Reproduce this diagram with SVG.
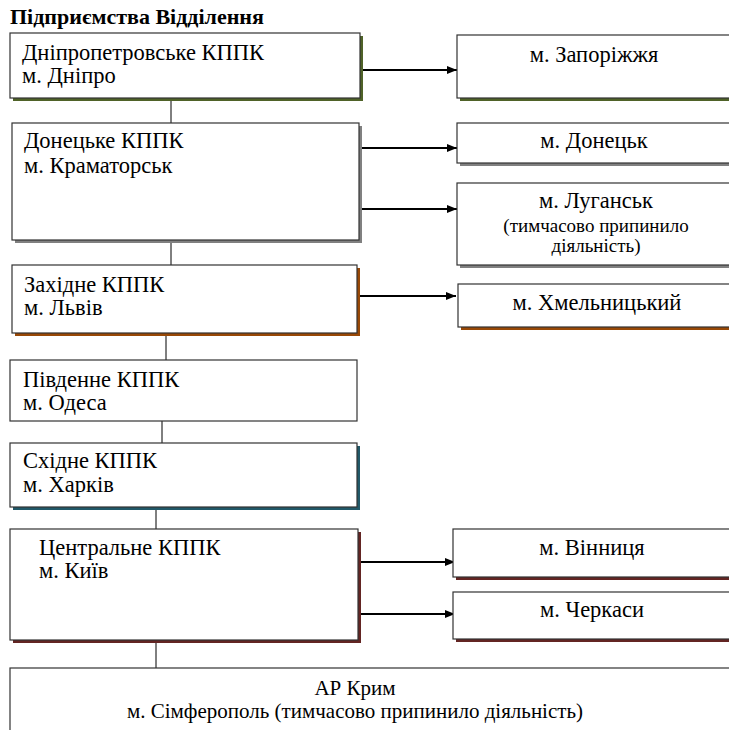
<svg xmlns="http://www.w3.org/2000/svg" width="729" height="730" viewBox="0 0 729 730">
<defs>
<style>
.t{font-family:"Liberation Serif","Times New Roman",serif;font-size:22.5px;font-weight:normal;fill:#000}
.s{font-size:19px}
.k{font-size:21px}
.title{font-family:"Liberation Serif","Times New Roman",serif;font-size:22px;font-weight:bold;fill:#000}
.box{fill:#fff;stroke:#333;stroke-width:1.2}
.c{stroke:#000;stroke-width:1}
.a{stroke:#000;stroke-width:2;fill:none}
</style>
<marker id="ah" markerWidth="10" markerHeight="8" refX="10" refY="4" orient="auto" markerUnits="userSpaceOnUse">
<path d="M0,0 L10,4 L0,8 Z" fill="#000"/>
</marker>
</defs>
<rect width="729" height="730" fill="#fff"/>
<text class="title" x="10" y="24">Підприємства Відділення</text>

<g id="connectors">
<line class="c" x1="171" y1="98" x2="171" y2="123"/>
<line class="c" x1="171" y1="240" x2="171" y2="265"/>
<line class="c" x1="166" y1="333" x2="166" y2="360"/>
<line class="c" x1="162" y1="421" x2="162" y2="443"/>
<line class="c" x1="156" y1="507" x2="156" y2="529"/>
<line class="c" x1="156" y1="640" x2="156" y2="668"/>
<line class="a" x1="362" y1="70" x2="457" y2="70" marker-end="url(#ah)"/>
<line class="a" x1="361" y1="148" x2="457" y2="148" marker-end="url(#ah)"/>
<line class="a" x1="361" y1="209" x2="457" y2="209" marker-end="url(#ah)"/>
<line class="a" x1="357" y1="296" x2="456" y2="296" marker-end="url(#ah)"/>
<line class="a" x1="358" y1="562" x2="455" y2="562" marker-end="url(#ah)"/>
<line class="a" x1="358" y1="614" x2="455" y2="614" marker-end="url(#ah)"/>
</g>

<g id="dnipro">
<rect x="13" y="36" width="350" height="65" fill="#4f6228"/>
<rect class="box" x="10" y="33" width="350" height="65"/>
<text class="t" x="22" y="60">Дніпропетровське КППК</text>
<text class="t" x="22" y="83">м. Дніпро</text>
</g>
<g id="zaporizhzhia">
<rect x="460" y="38" width="280" height="63" fill="#4f6228"/>
<rect class="box" x="457" y="35" width="280" height="63"/>
<text class="t" x="594" y="62" text-anchor="middle">м. Запоріжжя</text>
</g>

<g id="donetske">
<rect x="15" y="126" width="347" height="117" fill="#808080"/>
<rect class="box" x="12" y="123" width="347" height="117"/>
<text class="t" x="24" y="148">Донецьке КППК</text>
<text class="t" x="24" y="173">м. Краматорськ</text>
</g>
<g id="donetsk">
<rect x="460" y="126" width="280" height="40" fill="#808080"/>
<rect class="box" x="457" y="123" width="280" height="40"/>
<text class="t" x="594" y="148" text-anchor="middle">м. Донецьк</text>
</g>
<g id="luhansk">
<rect x="460" y="186" width="280" height="82" fill="#808080"/>
<rect class="box" x="457" y="183" width="280" height="82"/>
<text class="t" x="596" y="208" text-anchor="middle">м. Луганськ</text>
<text class="t s" x="596" y="232" text-anchor="middle">(тимчасово припинило</text>
<text class="t s" x="596" y="252" text-anchor="middle">діяльність)</text>
</g>

<g id="zakhidne">
<rect x="15" y="268" width="345" height="68" fill="#984806"/>
<rect class="box" x="12" y="265" width="345" height="68"/>
<text class="t" x="24" y="292">Західне КППК</text>
<text class="t" x="24" y="315">м. Львів</text>
</g>
<g id="khmelnytskyi">
<rect x="461" y="287" width="280" height="43" fill="#984806"/>
<rect class="box" x="458" y="284" width="280" height="43"/>
<text class="t" x="597" y="310" text-anchor="middle">м. Хмельницький</text>
</g>

<g id="pivdenne">
<rect class="box" x="10" y="360" width="347" height="61"/>
<text class="t" x="23" y="387">Південне КППК</text>
<text class="t" x="23" y="410">м. Одеса</text>
</g>

<g id="skhidne">
<rect x="13" y="446" width="347" height="64" fill="#215868"/>
<rect class="box" x="10" y="443" width="347" height="64"/>
<text class="t" x="23" y="468">Східне КППК</text>
<text class="t" x="23" y="492">м. Харків</text>
</g>

<g id="tsentralne">
<rect x="13" y="532" width="348" height="111" fill="#632523"/>
<rect class="box" x="10" y="529" width="348" height="111"/>
<text class="t" x="39" y="555">Центральне КППК</text>
<text class="t" x="39" y="578">м. Київ</text>
</g>
<g id="vinnytsia">
<rect x="456" y="532" width="280" height="48" fill="#632523"/>
<rect class="box" x="453" y="529" width="280" height="48"/>
<text class="t" x="592" y="555" text-anchor="middle">м. Вінниця</text>
</g>
<g id="cherkasy">
<rect x="456" y="595" width="280" height="47" fill="#632523"/>
<rect class="box" x="453" y="592" width="280" height="47"/>
<text class="t" x="592" y="617" text-anchor="middle">м. Черкаси</text>
</g>

<g id="krym">
<rect class="box" x="10" y="668" width="730" height="80"/>
<text class="t k" x="355" y="695" text-anchor="middle">АР Крим</text>
<text class="t k" x="355" y="718" text-anchor="middle">м. Сімферополь (тимчасово припинило діяльність)</text>
</g>
</svg>
